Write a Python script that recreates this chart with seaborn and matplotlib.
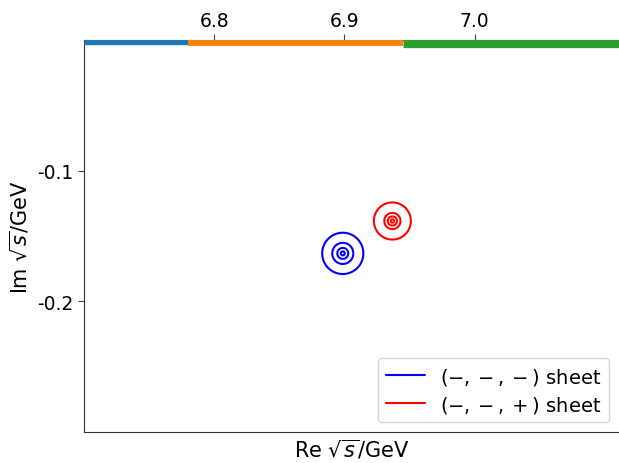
import numpy as np
import pandas as pd
import matplotlib
matplotlib.use("Agg")
import matplotlib.pyplot as plt
import seaborn as sns
from matplotlib.lines import Line2D

# --- data ---
sheet_labels = [r"$(-,-,-)$ sheet", r"$(-,-,+)$ sheet"]
sheet_colors = ["blue", "red"]
pole_re = [6.8988, 6.9369]
pole_im = [-0.1633, -0.1385]
blue_radii = [0.0015, 0.0042, 0.0081, 0.0158]
red_radii = [0.0013, 0.0035, 0.0062, 0.0142]

band_starts = [6.70, 6.78, 6.945]
band_ends = [6.78, 6.945, 7.12]
band_colors = ["tab:blue", "tab:orange", "tab:green"]
band_widths = [6.8, 8.6, 11.0]

xticks = [6.8, 6.9, 7.0]
yticks = [-0.1, -0.2]
xlim = (6.70, 7.111)
ylim = (-0.30, 0.0)

sns.set_style("ticks")
plt.rcParams['font.family'] = ['DejaVu Sans']
plt.rcParams['text.color'] = 'black'
plt.rcParams['axes.labelcolor'] = 'black'
plt.rcParams['xtick.color'] = 'black'
plt.rcParams['ytick.color'] = 'black'

fig = plt.figure(figsize=(6.19, 4.64), dpi=100)
ax = fig.add_axes([0.1357, 0.0668, 0.8643, 0.8448])

# threshold bands along the real axis
for s, e, c, w in zip(band_starts, band_ends, band_colors, band_widths):
    df = pd.DataFrame({"x": [s, e], "y": [0.0, 0.0]})
    sns.lineplot(data=df, x="x", y="y", color=c, lw=w, ax=ax, clip_on=True,
                 solid_capstyle="butt", zorder=3)

# contours around poles
gx = np.linspace(xlim[0], xlim[1], 1200)
gy = np.linspace(ylim[0], ylim[1], 900)
X, Y = np.meshgrid(gx, gy)
for re, im, radii, col in zip(pole_re, pole_im, [blue_radii, red_radii], sheet_colors):
    R = np.hypot(X - re, Y - im)
    ax.contour(X, Y, R, levels=radii, colors=col, linewidths=1.5)

ax.set_xlim(*xlim)
ax.set_ylim(*ylim)
ax.set_xticks(xticks)
ax.set_xticklabels([f"{t:.1f}" for t in xticks])
ax.set_yticks(yticks)
ax.set_yticklabels([f"{t:.1f}" for t in yticks])
ax.xaxis.tick_top()
ax.tick_params(axis="both", labelsize=13.5, length=4, color="#444444",
               labelcolor="black")
ax.set_xlabel(r"Re $\sqrt{s}$/GeV", fontsize=15)
ax.xaxis.set_label_position("bottom")
ax.set_ylabel(r"Im $\sqrt{s}$/GeV", fontsize=15)
for sp in ax.spines.values():
    sp.set_visible(True)
    sp.set_color("#333333")
ax.spines["right"].set_visible(False)

handles = [Line2D([0], [0], color=c, lw=1.5) for c in sheet_colors]
ax.legend(handles, sheet_labels, loc="lower right", fontsize=14,
          handlelength=2.0, labelspacing=0.35, frameon=True)

fig.savefig("out.png", dpi=100)
